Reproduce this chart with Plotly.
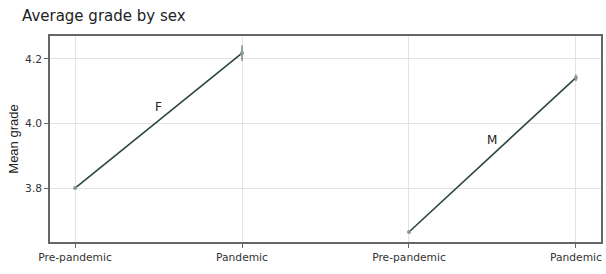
import plotly.graph_objects as go

tick_labels = ["Pre-pandemic", "Pandemic", "Pre-pandemic", "Pandemic"]
groups = ["F", "M"]
f_means = [3.80, 4.218]
f_err = [0.004, 0.024]
m_means = [3.664, 4.142]
m_err = [0.004, 0.010]

fig = go.Figure()
line_color = "#2b4540"
for xs, ys, es in [([0, 1], f_means, f_err), ([2, 3], m_means, m_err)]:
    fig.add_trace(go.Scatter(
        x=xs, y=ys, mode="lines+markers",
        line=dict(color=line_color, width=1.6),
        marker=dict(color="#8a9a94", size=4),
        error_y=dict(type="data", array=es, color="#7a8a84", thickness=1.5, width=0),
        showlegend=False,
    ))

label_y = [4.05, 3.95]
for i, g in enumerate(groups):
    fig.add_annotation(x=0.5 + 2 * i, y=label_y[i], text=g, showarrow=False,
                       font=dict(family="DejaVu Sans", size=12, color="#222"))

fig.update_layout(
    width=606, height=274,
    margin=dict(l=50, r=5, t=36, b=32),
    paper_bgcolor="white", plot_bgcolor="white",
    title=dict(text="Average grade by sex", x=22 / 606, y=1 - 16 / 274, xanchor="left", yanchor="middle",
               font=dict(family="DejaVu Sans", size=15, color="#222")),
    xaxis=dict(range=[-0.15, 3.15], tickvals=[0, 1, 2, 3], ticktext=tick_labels,
               showgrid=True, gridcolor="#e3e3e3", gridwidth=1, automargin=False,
               showline=True, linecolor="#666", linewidth=1.5, mirror=True,
               ticks="outside", ticklen=4, tickcolor="#666", zeroline=False,
               tickfont=dict(family="DejaVu Sans", size=10.7, color="#333")),
    yaxis=dict(range=[3.633, 4.271], tickvals=[3.8, 4.0, 4.2], ticktext=["3.8", "4.0", "4.2"],
               showgrid=True, gridcolor="#e3e3e3", gridwidth=1, automargin=False,
               showline=True, linecolor="#666", linewidth=1.5, mirror=True,
               ticks="outside", ticklen=4, tickcolor="#666", zeroline=False,
               tickfont=dict(family="DejaVu Sans", size=10.7, color="#333"),
               title=dict(text="Mean grade", standoff=4,
                          font=dict(family="Liberation Sans Narrow, Liberation Sans", size=13, color="#222"))),
)

fig.write_html("out.html", config={"displayModeBar": False},
               post_script="document.body.style.margin='0';document.body.style.overflow='hidden';")
